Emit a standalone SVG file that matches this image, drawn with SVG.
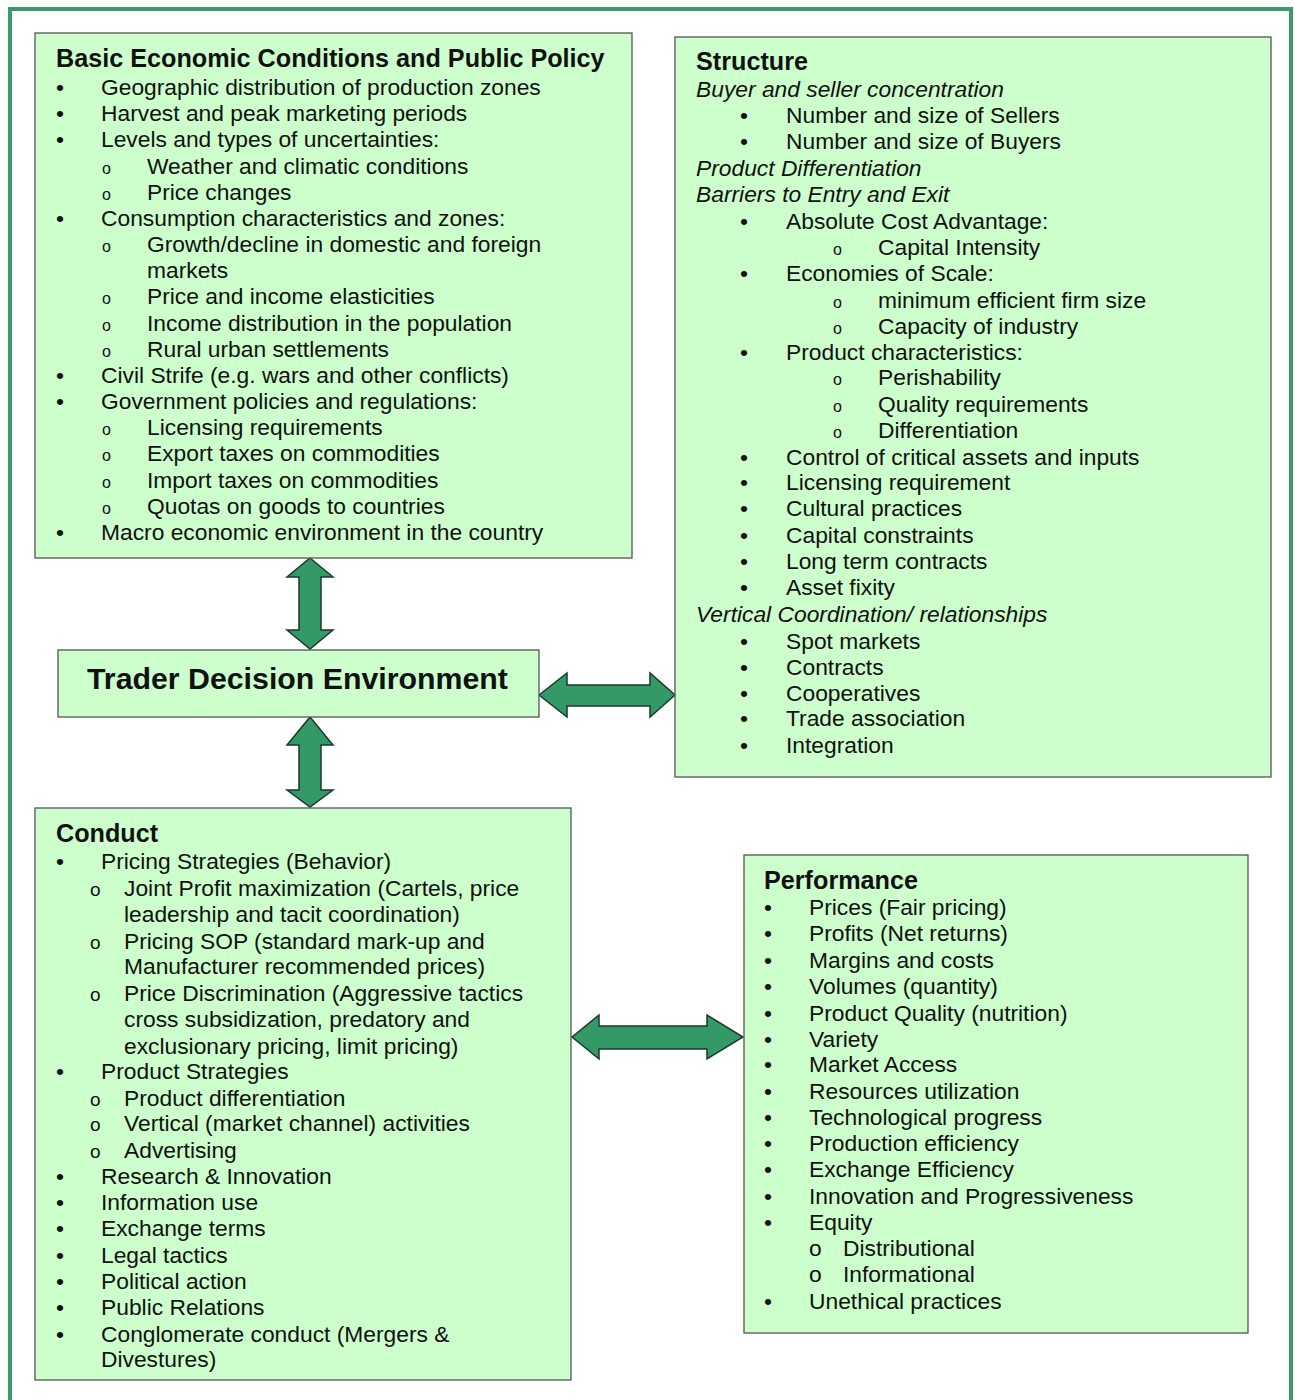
<svg xmlns="http://www.w3.org/2000/svg" width="1295" height="1400" viewBox="0 0 1295 1400">
<style>
.box{fill:#ccffcc;stroke:#555;stroke-width:1.3}
.t{font-family:"Liberation Sans",Arial,sans-serif;font-size:22.8px;fill:#111}
.h{font-family:"Liberation Sans",Arial,sans-serif;font-size:25.2px;font-weight:bold;fill:#111}
.i{font-style:italic}
.s{font-size:16px}
.m{font-size:19px}
.arr{fill:#339966;stroke:#1a3a2a;stroke-width:1.5;stroke-linejoin:miter}
</style>
<rect x="0" y="0" width="1295" height="1400" fill="#ffffff"/>
<rect x="10" y="9" width="1281" height="1410" fill="none" stroke="#3a9a6a" stroke-width="4"/>
<g id="connectors">
<path class="arr" d="M310,558 L333,577 L321,577 L321,630 L333,630 L310,649 L287,630 L299,630 L299,577 L287,577 Z"/>
<path class="arr" d="M310,717 L333,745 L321,745 L321,790 L333,790 L310,807 L287,790 L299,790 L299,745 L287,745 Z"/>
<path class="arr" d="M539,695 L567,673 L567,685 L650,685 L650,673 L675,695 L650,717 L650,706 L567,706 L567,717 Z"/>
<path class="arr" d="M572,1037 L599,1015 L599,1026 L707,1026 L707,1015 L743,1037 L707,1059 L707,1049 L599,1049 L599,1059 Z"/>
</g>
<g id="basic">
<rect class="box" x="35" y="33" width="597" height="525"/>
<text class="h" x="56" y="67">Basic Economic Conditions and Public Policy</text>
<g class="t" transform="translate(0,1)">
<text x="56" y="94">•</text><text x="101" y="94">Geographic distribution of production zones</text>
<text x="56" y="120">•</text><text x="101" y="120">Harvest and peak marketing periods</text>
<text x="56" y="146">•</text><text x="101" y="146">Levels and types of uncertainties:</text>
<text class="s" x="102" y="173">o</text><text x="147" y="173">Weather and climatic conditions</text>
<text class="s" x="102" y="199">o</text><text x="147" y="199">Price changes</text>
<text x="56" y="225">•</text><text x="101" y="225">Consumption characteristics and zones:</text>
<text class="s" x="102" y="251">o</text><text x="147" y="251">Growth/decline in domestic and foreign</text>
<text x="147" y="277">markets</text>
<text class="s" x="102" y="303">o</text><text x="147" y="303">Price and income elasticities</text>
<text class="s" x="102" y="330">o</text><text x="147" y="330">Income distribution in the population</text>
<text class="s" x="102" y="356">o</text><text x="147" y="356">Rural urban settlements</text>
<text x="56" y="382">•</text><text x="101" y="382">Civil Strife (e.g. wars and other conflicts)</text>
<text x="56" y="408">•</text><text x="101" y="408">Government policies and regulations:</text>
<text class="s" x="102" y="434">o</text><text x="147" y="434">Licensing requirements</text>
<text class="s" x="102" y="460">o</text><text x="147" y="460">Export taxes on commodities</text>
<text class="s" x="102" y="487">o</text><text x="147" y="487">Import taxes on commodities</text>
<text class="s" x="102" y="513">o</text><text x="147" y="513">Quotas on goods to countries</text>
<text x="56" y="539">•</text><text x="101" y="539">Macro economic environment in the country</text>
</g>
</g>
<g id="structure">
<rect class="box" x="675" y="37" width="596" height="740"/>
<text class="h" x="696" y="70">Structure</text>
<g class="t" transform="translate(0,1)">
<text class="i" x="696" y="96">Buyer and seller concentration</text>
<text x="740" y="122">•</text><text x="786" y="122">Number  and size of Sellers</text>
<text x="740" y="148">•</text><text x="786" y="148">Number and size of Buyers</text>
<text class="i" x="696" y="175">Product Differentiation</text>
<text class="i" x="696" y="201">Barriers to Entry and Exit</text>
<text x="740" y="228">•</text><text x="786" y="228">Absolute Cost Advantage:</text>
<text class="s" x="833" y="254">o</text><text x="878" y="254">Capital Intensity</text>
<text x="740" y="280">•</text><text x="786" y="280">Economies of Scale:</text>
<text class="s" x="833" y="307">o</text><text x="878" y="307">minimum efficient firm size</text>
<text class="s" x="833" y="333">o</text><text x="878" y="333">Capacity of industry</text>
<text x="740" y="359">•</text><text x="786" y="359">Product characteristics:</text>
<text class="s" x="833" y="384">o</text><text x="878" y="384">Perishability</text>
<text class="s" x="833" y="411">o</text><text x="878" y="411">Quality requirements</text>
<text class="s" x="833" y="437">o</text><text x="878" y="437">Differentiation</text>
<text x="740" y="464">•</text><text x="786" y="464">Control of critical assets and inputs</text>
<text x="740" y="489">•</text><text x="786" y="489">Licensing requirement</text>
<text x="740" y="515">•</text><text x="786" y="515">Cultural practices</text>
<text x="740" y="542">•</text><text x="786" y="542">Capital constraints</text>
<text x="740" y="568">•</text><text x="786" y="568">Long term contracts</text>
<text x="740" y="594">•</text><text x="786" y="594">Asset fixity</text>
<text class="i" x="696" y="621">Vertical Coordination/ relationships</text>
<text x="740" y="648">•</text><text x="786" y="648">Spot markets</text>
<text x="740" y="674">•</text><text x="786" y="674">Contracts</text>
<text x="740" y="700">•</text><text x="786" y="700">Cooperatives</text>
<text x="740" y="725">•</text><text x="786" y="725">Trade association</text>
<text x="740" y="752">•</text><text x="786" y="752">Integration</text>
</g>
</g>
<g id="trader">
<rect class="box" x="58" y="650" width="481" height="67"/>
<text class="h" x="87" y="689" style="font-size:30.3px">Trader Decision Environment</text>
</g>
<g id="conduct">
<rect class="box" x="35" y="808" width="536" height="572"/>
<text class="h" x="56" y="842">Conduct</text>
<g class="t" transform="translate(0,1)">
<text x="56" y="868">•</text><text x="101" y="868">Pricing Strategies (Behavior)</text>
<text class="m" x="90" y="895">o</text><text x="124" y="895">Joint Profit maximization (Cartels, price</text>
<text x="124" y="921">leadership and tacit coordination)</text>
<text class="m" x="90" y="948">o</text><text x="124" y="948">Pricing SOP (standard mark-up and</text>
<text x="124" y="973">Manufacturer recommended prices)</text>
<text class="m" x="90" y="1000">o</text><text x="124" y="1000">Price Discrimination (Aggressive tactics</text>
<text x="124" y="1026">cross subsidization, predatory and</text>
<text x="124" y="1053">exclusionary pricing, limit pricing)</text>
<text x="56" y="1078">•</text><text x="101" y="1078">Product Strategies</text>
<text class="m" x="90" y="1105">o</text><text x="124" y="1105">Product differentiation</text>
<text class="m" x="90" y="1130">o</text><text x="124" y="1130">Vertical (market channel) activities</text>
<text class="m" x="90" y="1157">o</text><text x="124" y="1157">Advertising</text>
<text x="56" y="1183">•</text><text x="101" y="1183">Research &amp; Innovation</text>
<text x="56" y="1209">•</text><text x="101" y="1209">Information use</text>
<text x="56" y="1235">•</text><text x="101" y="1235">Exchange terms</text>
<text x="56" y="1262">•</text><text x="101" y="1262">Legal tactics</text>
<text x="56" y="1288">•</text><text x="101" y="1288">Political action</text>
<text x="56" y="1314">•</text><text x="101" y="1314">Public Relations</text>
<text x="56" y="1341">•</text><text x="101" y="1341">Conglomerate conduct (Mergers &amp;</text>
<text x="101" y="1366">Divestures)</text>
</g>
</g>
<g id="performance">
<rect class="box" x="744" y="855" width="504" height="478"/>
<text class="h" x="764" y="889">Performance</text>
<g class="t" transform="translate(0,1)">
<text x="764" y="914">•</text><text x="809" y="914">Prices (Fair pricing)</text>
<text x="764" y="940">•</text><text x="809" y="940">Profits (Net returns)</text>
<text x="764" y="967">•</text><text x="809" y="967">Margins and costs</text>
<text x="764" y="993">•</text><text x="809" y="993">Volumes (quantity)</text>
<text x="764" y="1020">•</text><text x="809" y="1020">Product Quality (nutrition)</text>
<text x="764" y="1046">•</text><text x="809" y="1046">Variety</text>
<text x="764" y="1071">•</text><text x="809" y="1071">Market Access</text>
<text x="764" y="1098">•</text><text x="809" y="1098">Resources utilization</text>
<text x="764" y="1124">•</text><text x="809" y="1124">Technological progress</text>
<text x="764" y="1150">•</text><text x="809" y="1150">Production efficiency</text>
<text x="764" y="1176">•</text><text x="809" y="1176">Exchange Efficiency</text>
<text x="764" y="1203">•</text><text x="809" y="1203">Innovation and Progressiveness</text>
<text x="764" y="1229">•</text><text x="809" y="1229">Equity</text>
<text x="809" y="1255">o</text><text x="843" y="1255">Distributional</text>
<text x="809" y="1281">o</text><text x="843" y="1281">Informational</text>
<text x="764" y="1308">•</text><text x="809" y="1308">Unethical practices</text>
</g>
</g>
</svg>
